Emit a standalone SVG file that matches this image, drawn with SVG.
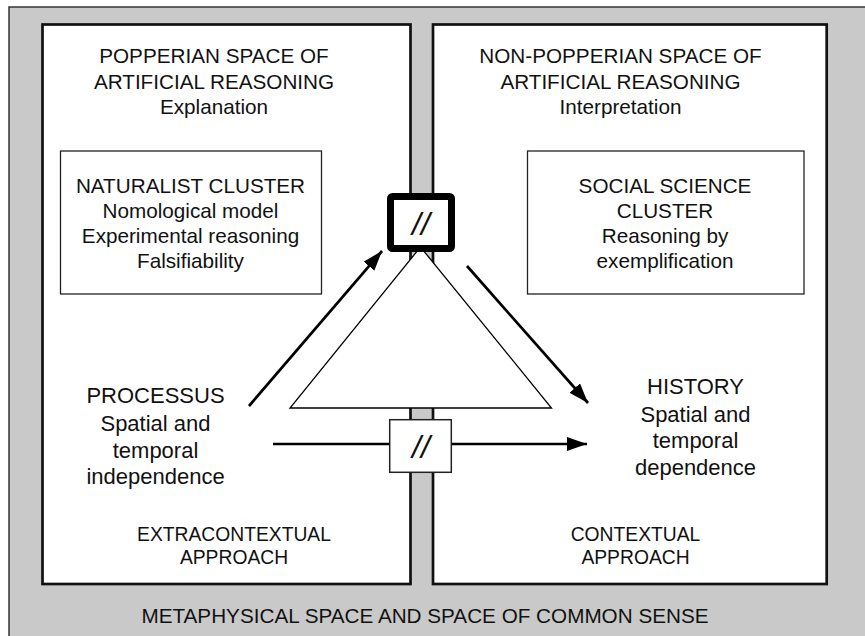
<svg xmlns="http://www.w3.org/2000/svg" width="865" height="636" viewBox="0 0 865 636">
<defs>
<style>
text{font-family:"Liberation Sans",Arial,Helvetica,sans-serif;fill:#111;text-anchor:middle}
.t{font-size:20.7px}
.b{font-size:22px}
.s{font-size:19.3px}
.sl{font-size:32px;font-style:italic}
.panel{fill:#fff;stroke:#111;stroke-width:2.7}
.box{fill:#fff;stroke:#222;stroke-width:1.3}
.conn{stroke:#000;stroke-width:2.7;fill:none}
</style>
<marker id="ah" markerUnits="userSpaceOnUse" markerWidth="21" markerHeight="15" refX="20" refY="7" orient="auto">
<path d="M0,0 L20,7 L0,14 z" fill="#000"/>
</marker>
</defs>
<rect x="9" y="7" width="880" height="650" fill="#c9c9c9" stroke="#333" stroke-width="1.5"/>
<g id="popperian">
<rect class="panel" x="42.5" y="24.5" width="368" height="559.5"/>
<text class="t" x="214" y="63">POPPERIAN SPACE OF</text>
<text class="t" x="214" y="89">ARTIFICIAL REASONING</text>
<text class="t" x="214" y="114">Explanation</text>
<text class="s" x="234" y="541">EXTRACONTEXTUAL</text>
<text class="s" x="234" y="564">APPROACH</text>
</g>
<g id="non-popperian">
<rect class="panel" x="433" y="24.5" width="393.7" height="559.5"/>
<text class="t" x="620.5" y="63">NON-POPPERIAN SPACE OF</text>
<text class="t" x="620.5" y="89">ARTIFICIAL REASONING</text>
<text class="t" x="620.5" y="114">Interpretation</text>
<text class="s" x="635.5" y="541">CONTEXTUAL</text>
<text class="s" x="635.5" y="564">APPROACH</text>
</g>
<g id="naturalist">
<rect class="box" x="60.5" y="151" width="261" height="143"/>
<text class="t" x="190.5" y="193">NATURALIST CLUSTER</text>
<text class="t" x="190.5" y="218">Nomological model</text>
<text class="t" x="190.5" y="243">Experimental reasoning</text>
<text class="t" x="190.5" y="268">Falsifiability</text>
</g>
<g id="social">
<rect class="box" x="527.5" y="151" width="276.5" height="143"/>
<text class="t" x="665" y="193">SOCIAL SCIENCE</text>
<text class="t" x="665" y="218">CLUSTER</text>
<text class="t" x="665" y="243">Reasoning by</text>
<text class="t" x="665" y="268">exemplification</text>
</g>
<g id="processus">
<text class="b" x="155.5" y="403">PROCESSUS</text>
<text class="b" x="155.5" y="431">Spatial and</text>
<text class="b" x="155.5" y="458">temporal</text>
<text class="b" x="155.5" y="484">independence</text>
</g>
<g id="history">
<text class="b" x="695.5" y="394">HISTORY</text>
<text class="b" x="695.5" y="422">Spatial and</text>
<text class="b" x="695.5" y="448">temporal</text>
<text class="b" x="695.5" y="475">dependence</text>
</g>
<g id="triangle">
<path d="M420.5,247 L290,408 L551.5,408 Z" fill="#fff" stroke="#000" stroke-width="1.3" stroke-linejoin="miter"/>
</g>
<g id="connectors">
<line class="conn" x1="249" y1="406" x2="382" y2="251" marker-end="url(#ah)"/>
<line class="conn" x1="467" y1="266" x2="588" y2="403" marker-end="url(#ah)"/>
<line class="conn" x1="273" y1="444" x2="587" y2="444" marker-end="url(#ah)"/>
</g>
<g id="break-top">
<rect x="390.5" y="196.5" width="61" height="52" rx="2" fill="#fff" stroke="#000" stroke-width="7"/>
<text class="sl" x="421" y="235">//</text>
</g>
<g id="break-bottom">
<rect x="389.7" y="419.7" width="61.6" height="52.6" fill="#fff" stroke="#222" stroke-width="1.5"/>
<text class="sl" x="421" y="458">//</text>
</g>
<text class="t" x="425" y="623">METAPHYSICAL SPACE AND SPACE OF COMMON SENSE</text>
</svg>
